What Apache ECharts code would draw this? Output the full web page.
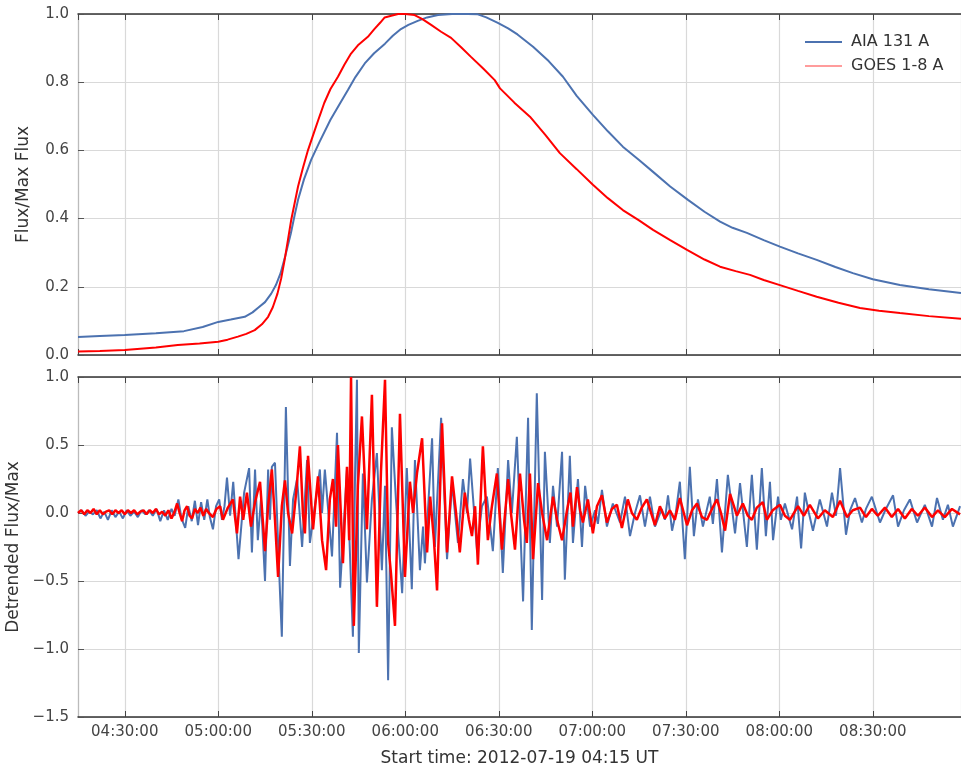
<!DOCTYPE html>
<html>
<head>
<meta charset="utf-8">
<script src="https://cdn.jsdelivr.net/npm/echarts@6/dist/echarts.min.js"></script>
<style>
html,body{margin:0;padding:0;background:#fff;}
#chart{width:961px;height:769px;}
</style>
</head>
<body>
<div id="chart"></div>
<script>
// time in minutes since 04:00 UT
const seriesNames = ['AIA 131 A', 'GOES 1-8 A'];
const xTickMin = 15, xTickMax = 298.3;

// normalized flux (top panel): [minutes, flux/max]
const aiaNorm = [[15,0.053],[22,0.056],[30,0.059],[40,0.064],[49,0.070],[55,0.082],[60,0.097],[64,0.104],[68.5,0.112],[71,0.125],[72.7,0.138],[75,0.155],[77,0.18],[78.5,0.205],[80,0.24],[81.5,0.29],[83.3,0.357],[84.5,0.41],[85.6,0.455],[87.5,0.515],[89.8,0.572],[92.5,0.625],[96,0.69],[99,0.737],[101.6,0.777],[104,0.815],[107,0.855],[110,0.885],[113.5,0.913],[116,0.936],[118.6,0.956],[121,0.968],[124,0.98],[127,0.99],[130.5,0.997],[135,1.0],[140,1.0],[143.3,0.999],[146,0.99],[149.7,0.974],[153,0.958],[156,0.94],[161,0.904],[166,0.862],[170.6,0.816],[175,0.76],[180.2,0.704],[185,0.656],[189.8,0.611],[195,0.572],[199.5,0.537],[205,0.494],[210.7,0.455],[216,0.42],[221,0.391],[225,0.373],[229.6,0.358],[235,0.337],[240.2,0.318],[246,0.298],[252,0.279],[258,0.258],[263.6,0.24],[270,0.222],[278.7,0.205],[288,0.193],[298.3,0.182]];
const goesNorm = [[15,0.010],[22,0.012],[30,0.015],[40,0.022],[47,0.029],[54,0.034],[60,0.039],[63,0.045],[66.3,0.054],[69,0.062],[71.7,0.073],[74,0.09],[76,0.112],[77.5,0.14],[79,0.18],[80.2,0.225],[81.3,0.279],[82.4,0.34],[83.4,0.396],[84.5,0.445],[85.6,0.494],[87.2,0.55],[88.8,0.601],[91,0.66],[92.5,0.70],[94,0.739],[96,0.78],[98.4,0.816],[100.5,0.852],[102.6,0.884],[105,0.91],[108,0.933],[110,0.955],[112,0.975],[113.4,0.99],[115.5,0.995],[117.7,1.0],[120,1.0],[123,0.997],[125.5,0.985],[128.3,0.968],[131.5,0.948],[134.7,0.93],[138,0.902],[141,0.875],[145,0.84],[148.7,0.806],[150.4,0.782],[155,0.74],[160,0.699],[165,0.645],[169.6,0.592],[175,0.545],[180.2,0.499],[185,0.46],[189.8,0.425],[195,0.395],[199.5,0.367],[205,0.337],[210.4,0.308],[216,0.28],[221,0.259],[226,0.246],[230.6,0.235],[235,0.22],[240.2,0.205],[246,0.188],[252,0.171],[259,0.153],[265.9,0.138],[272,0.13],[278.7,0.123],[288,0.114],[298.3,0.106]];

// detrended flux (bottom panel): [minutes, value]
const aiaDetr = [[15,0.00],[16.2,0.02],[17.4,-0.02],[18.6,0.01],[19.8,-0.01],[21,0.02],[22.2,-0.04],[23.4,0.01],[24.6,-0.05],[25.8,0.02],[27,-0.03],[28.2,0.01],[29.4,-0.04],[30.6,0.02],[31.8,-0.02],[33,0.01],[34.2,-0.03],[35.4,0.02],[36.6,-0.01],[37.8,0.02],[39,-0.02],[40.2,0.03],[41.4,-0.06],[42.6,0.02],[43.8,-0.05],[45,0.03],[46,-0.02],[47.2,0.10],[48.2,-0.04],[49.4,-0.11],[50.4,0.05],[51.5,-0.06],[52.5,0.09],[53.5,-0.09],[54.5,0.08],[55.5,-0.05],[56.5,0.10],[57.3,-0.03],[58.3,-0.12],[59.3,0.05],[60.3,0.10],[61.2,-0.05],[62.0,0.05],[62.8,0.26],[63.8,-0.02],[64.8,0.23],[66.5,-0.34],[68.3,0.15],[69.9,0.33],[70.8,-0.29],[71.8,0.32],[72.7,-0.20],[73.7,0.10],[75.0,-0.50],[76.0,0.32],[76.6,-0.05],[77.2,0.34],[78.2,0.37],[79.8,-0.58],[80.4,-0.91],[81.7,0.78],[83.0,-0.39],[84.0,0.10],[85.3,0.25],[86.9,-0.25],[88.5,0.39],[89.4,-0.22],[91.0,0.05],[92.6,0.32],[93.3,0.00],[94.2,0.32],[96.5,-0.32],[98.1,0.59],[99.1,-0.55],[101.3,0.32],[103.2,-0.91],[103.9,0.30],[104.5,0.98],[105.1,-1.03],[106.4,0.29],[107.7,-0.51],[109.3,0.10],[110.9,0.44],[112.5,-0.42],[113.5,0.20],[114.5,-1.23],[115.7,0.63],[117.0,0.10],[119.0,-0.59],[120.5,0.33],[122.1,-0.56],[123.1,0.39],[124.7,-0.42],[125.7,-0.10],[126.3,-0.37],[128.6,0.55],[129.5,-0.25],[131.5,0.70],[133.4,-0.34],[135.0,0.22],[136.9,-0.22],[138.5,0.25],[139.8,0.00],[140.8,0.40],[143.0,-0.27],[144.6,0.05],[146.2,0.12],[148.1,-0.28],[149.7,0.33],[151.3,-0.44],[153.0,0.39],[154.2,0.00],[155.8,0.56],[157.8,-0.65],[159.4,0.70],[160.6,-0.86],[162.2,0.88],[163.9,-0.64],[164.8,0.45],[166.4,-0.22],[167.4,0.20],[168.7,-0.10],[170.3,0.45],[171.2,-0.49],[172.8,0.42],[173.8,-0.22],[175.4,0.25],[176.7,-0.25],[177.7,0.20],[179.3,-0.10],[180.9,0.02],[181.8,-0.08],[183.1,0.17],[184.7,-0.10],[186.6,0.07],[188.9,-0.07],[190.5,0.12],[192.1,-0.17],[193.7,0.00],[195.3,0.13],[196.9,-0.10],[198.5,0.12],[200.1,-0.10],[202.3,0.03],[203.3,-0.05],[204.3,0.13],[205.6,-0.13],[206.8,0.00],[208.1,0.23],[209.7,-0.34],[211.3,0.34],[212.6,-0.17],[213.9,0.10],[215.5,-0.10],[217.7,0.12],[218.7,-0.08],[220.0,0.25],[221.6,-0.29],[223.5,0.28],[225.8,-0.15],[227.4,0.22],[229.6,-0.25],[231.2,0.28],[232.8,-0.27],[234.4,0.33],[235.7,-0.17],[237.0,0.23],[238.0,-0.20],[239.6,0.12],[240.5,-0.05],[241.8,0.07],[244.1,-0.12],[245.7,0.12],[247.0,-0.26],[248.2,0.15],[249.5,0.00],[250.8,-0.13],[253.0,0.10],[255.3,-0.10],[256.9,0.15],[258.2,-0.02],[259.5,0.33],[261.4,-0.16],[262.7,0.02],[264.3,0.11],[266.5,-0.07],[267.8,0.03],[269.7,0.12],[272.3,-0.07],[274.2,0.03],[276.5,0.13],[278.1,-0.10],[280.0,0.02],[281.9,0.10],[284.2,-0.07],[286.7,0.06],[289.0,-0.10],[290.6,0.11],[292.5,-0.05],[294.1,0.06],[295.7,-0.10],[298.0,0.05]];
const goesDetr = [[15,0.00],[16,0.02],[17,-0.01],[18,0.02],[19,0.00],[20,0.03],[21,-0.01],[22,0.02],[23,-0.01],[24,0.01],[25,0.02],[26,-0.01],[27,0.02],[28,0.00],[29,0.02],[30,-0.01],[31,0.02],[32,0.00],[33,0.02],[34,-0.01],[35,0.01],[36,0.02],[37,-0.01],[38,0.02],[39,0.00],[40,0.03],[41,-0.01],[42,0.01],[43,-0.02],[44,0.02],[45,-0.04],[46,0.01],[46.8,0.07],[47.6,0.00],[48.4,-0.06],[49.2,0.02],[50,0.05],[50.8,-0.02],[51.6,-0.04],[52.5,0.03],[53.4,0.00],[54.3,0.04],[55.2,-0.02],[56.1,0.03],[57,0.00],[58.3,-0.03],[59.4,0.03],[60.6,0.05],[61.5,-0.05],[63.1,0.04],[64.7,0.10],[66.0,-0.15],[67.0,0.12],[68.0,-0.05],[69.2,0.15],[70.5,-0.10],[71.8,0.08],[73.4,0.23],[75.0,-0.28],[76.0,0.05],[77.2,0.32],[78.2,-0.05],[79.2,-0.47],[80.4,0.05],[81.4,0.24],[82.4,0.00],[83.7,-0.15],[85.0,0.15],[86.2,0.49],[87.2,-0.02],[87.8,-0.15],[88.8,0.42],[90.4,-0.12],[92.0,0.27],[93.3,-0.20],[94.6,-0.42],[95.8,0.10],[96.8,0.25],[97.8,-0.10],[98.4,0.50],[100.0,-0.37],[101.3,0.34],[102.0,-0.20],[102.6,1.00],[103.5,-0.83],[104.8,0.20],[106.1,0.71],[107.7,-0.12],[109.3,0.87],[110.9,-0.69],[112.2,0.30],[113.5,0.98],[114.5,-0.22],[115.4,-0.44],[116.7,-0.83],[118.3,0.73],[119.9,-0.47],[121.5,0.23],[122.5,0.00],[123.8,0.30],[125.4,0.55],[127.0,-0.29],[128.0,0.12],[129.2,-0.20],[130.2,-0.57],[131.8,0.66],[133.4,-0.29],[135.0,0.27],[136.3,0.00],[137.5,-0.29],[139.1,0.15],[140.4,-0.05],[141.4,-0.17],[142.4,0.05],[143.3,-0.38],[144.9,0.49],[146.5,-0.20],[147.8,0.05],[149.4,0.29],[151.0,-0.27],[153.0,0.25],[153.9,0.00],[155.2,-0.27],[156.8,0.29],[158.1,-0.05],[159.0,-0.22],[160.0,0.29],[161.0,-0.34],[162.6,0.22],[163.9,0.00],[165.5,-0.20],[167.4,0.12],[168.7,-0.05],[170.3,-0.20],[171.9,0.02],[173.0,0.15],[173.8,-0.10],[175.1,0.19],[176.1,0.02],[177.0,-0.07],[178.6,0.10],[180.2,-0.15],[181.5,0.05],[183.1,0.13],[184.7,-0.07],[186.3,0.03],[187.9,0.06],[189.5,-0.11],[191.4,0.10],[192.7,0.00],[194.3,-0.05],[195.9,0.04],[197.5,0.10],[200.1,-0.09],[201.7,0.05],[203.3,-0.04],[204.9,0.02],[206.5,-0.05],[208.1,0.11],[210.4,-0.09],[212.0,0.02],[213.6,0.07],[215.2,-0.03],[216.8,-0.05],[218.4,0.03],[220.0,0.10],[221.3,0.00],[222.6,-0.13],[224.2,0.14],[226.4,-0.02],[228.3,0.07],[229.9,-0.02],[231.2,-0.05],[232.8,0.04],[234.7,0.08],[236.0,-0.05],[237.9,0.02],[240.2,0.06],[241.8,-0.02],[243.4,-0.05],[246.0,0.05],[247.9,-0.02],[249.8,0.06],[252.4,-0.04],[254.6,0.02],[257.2,-0.03],[259.5,0.09],[261.7,-0.03],[263.6,0.02],[265.9,0.04],[267.8,-0.03],[269.7,0.03],[271.6,-0.02],[273.9,0.04],[276.1,-0.03],[278.1,0.03],[280.3,-0.04],[282.5,0.03],[284.5,-0.02],[286.7,0.04],[289.0,-0.03],[290.9,0.02],[293.1,-0.03],[295.4,0.03],[298.0,-0.01]];

const BLUE = '#4c72b0', RED = '#ff0000';
const FONT = 'DejaVu Sans';
const gridColor = '#d9d9d9';

function timeLabel(v) {
  const tot = Math.round(v);
  const h = 4 + Math.floor(tot / 60), m = tot % 60;
  return String(h).padStart(2, '0') + ':' + String(m).padStart(2, '0') + ':00';
}

function xAxisBase(gridIndex, pos, showLabel, showSplit) {
  return {
    type: 'value', gridIndex: gridIndex, position: pos,
    min: xTickMin, max: xTickMax, minInterval: 30, maxInterval: 30,
    axisLine: { show: true, onZero: false, lineStyle: { color: '#333', width: 1.5 } },
    axisTick: { show: true, inside: true, length: 6, lineStyle: { color: '#444', width: 1 } },
    axisLabel: { show: showLabel, showMinLabel: false, showMaxLabel: false, color: '#444',
      fontFamily: FONT, fontSize: 15, margin: 8, formatter: timeLabel },
    splitLine: { show: showSplit, lineStyle: { color: gridColor, width: 1.2 } }
  };
}

const chart = echarts.init(document.getElementById('chart'), null, { renderer: 'canvas' });
const xBottom = xAxisBase(1, 'bottom', true, true);
xBottom.name = 'Start time: 2012-07-19 04:15 UT';
xBottom.nameLocation = 'middle';
xBottom.nameGap = 33;
xBottom.nameTextStyle = { color: '#333', fontFamily: FONT, fontSize: 17 };

function yAxisBase(gridIndex, min, max, interval, name) {
  return {
    type: 'value', gridIndex: gridIndex, min: min, max: max, interval: interval,
    name: name, nameLocation: 'middle', nameGap: 46,
    nameTextStyle: { color: '#333', fontFamily: FONT, fontSize: 17 },
    axisLine: { show: true, onZero: false, lineStyle: { color: '#bbbbbb', width: 1.2 } },
    axisTick: { show: true, inside: true, length: 6, lineStyle: { color: '#555', width: 1 } },
    axisLabel: { color: '#444', fontFamily: FONT, fontSize: 15, margin: 9,
      formatter: function (v) { return v.toFixed(1).replace('-', '\u2212'); } },
    splitLine: { show: true, lineStyle: { color: gridColor, width: 1.2 } }
  };
}

chart.setOption({
  animation: false,
  backgroundColor: '#ffffff',
  textStyle: { fontFamily: FONT },
  grid: [
    { left: 78, top: 14, right: 0, height: 341, outerBoundsMode: 'none', containLabel: false },
    { left: 78, top: 377, right: 0, height: 340, outerBoundsMode: 'none', containLabel: false }
  ],
  legend: {
    data: [
      { name: seriesNames[0], icon: 'rect', itemStyle: { color: BLUE } },
      { name: seriesNames[1], icon: 'rect', itemStyle: { color: '#ff9c9c' } }
    ],
    orient: 'vertical', left: 800, top: 29,
    itemWidth: 37, itemHeight: 2, itemGap: 8,
    textStyle: { color: '#333', fontFamily: FONT, fontSize: 16, padding: [0, 0, 0, 4] }
  },
  xAxis: [
    xAxisBase(0, 'bottom', false, true),
    xAxisBase(0, 'top', false, false),
    xBottom,
    xAxisBase(1, 'top', false, false)
  ],
  yAxis: [
    yAxisBase(0, 0, 1, 0.2, 'Flux/Max Flux'),
    yAxisBase(1, -1.5, 1, 0.5, 'Detrended Flux/Max')
  ],
  series: [
    { name: seriesNames[0], type: 'line', xAxisIndex: 0, yAxisIndex: 0, data: aiaNorm,
      symbol: 'none', lineStyle: { color: BLUE, width: 2 }, itemStyle: { color: BLUE }, z: 2 },
    { name: seriesNames[1], type: 'line', xAxisIndex: 0, yAxisIndex: 0, data: goesNorm,
      symbol: 'none', lineStyle: { color: RED, width: 2 }, itemStyle: { color: RED }, z: 3 },
    { name: seriesNames[0], type: 'line', xAxisIndex: 2, yAxisIndex: 1, data: aiaDetr,
      symbol: 'none', lineStyle: { color: BLUE, width: 2 }, itemStyle: { color: BLUE }, z: 2 },
    { name: seriesNames[1], type: 'line', xAxisIndex: 2, yAxisIndex: 1, data: goesDetr,
      symbol: 'none', lineStyle: { color: RED, width: 2.5 }, itemStyle: { color: RED }, z: 3 }
  ]
});
</script>
</body>
</html>
